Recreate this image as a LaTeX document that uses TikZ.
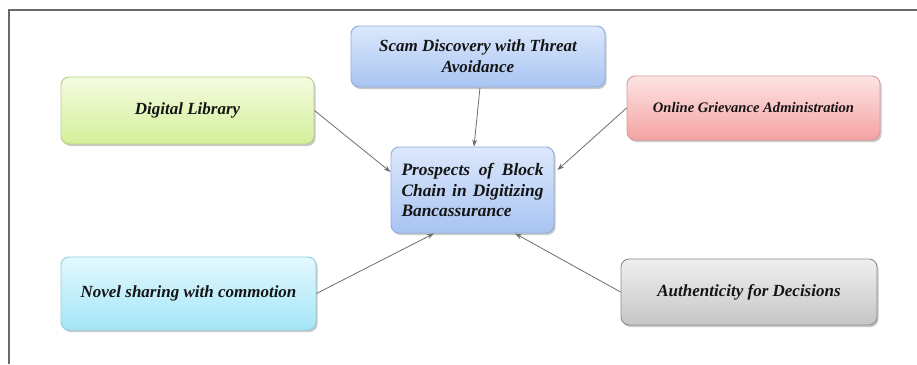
\documentclass[tikz,border=0pt]{standalone}
\usepackage{fontspec}
\setmainfont{Liberation Serif}
\usetikzlibrary{arrows.meta,shadows}

\definecolor{bluetop}{HTML}{DCE8FC}
\definecolor{bluebot}{HTML}{A8C4F2}
\definecolor{blueedge}{HTML}{8FAEDC}
\definecolor{greentop}{HTML}{F4FBE0}
\definecolor{greenbot}{HTML}{D4F09A}
\definecolor{greenedge}{HTML}{B5CF86}
\definecolor{redtop}{HTML}{FDE4E4}
\definecolor{redbot}{HTML}{F4A2A2}
\definecolor{rededge}{HTML}{D89A9A}
\definecolor{cyantop}{HTML}{E3F8FE}
\definecolor{cyanbot}{HTML}{A4E6F7}
\definecolor{cyanedge}{HTML}{8CCFE0}
\definecolor{graytop}{HTML}{EFEFEF}
\definecolor{graybot}{HTML}{C6C6C6}
\definecolor{grayedge}{HTML}{8C8C8C}
\definecolor{linkgray}{HTML}{6E6E6E}
\definecolor{framegray}{HTML}{6A6A6A}
\definecolor{inkdark}{HTML}{141414}

\tikzset{
  card/.style={rectangle, rounded corners=8pt, line width=0.9pt,
    drop shadow={shadow xshift=1.5pt, shadow yshift=-2pt, opacity=0.35, fill=black!60},
    font=\bfseries\itshape\fontsize{17}{21}\selectfont, text=inkdark, align=center,
    inner sep=0pt},
  bluecard/.style={card, draw=blueedge, top color=bluetop, bottom color=bluebot},
  greencard/.style={card, draw=greenedge, top color=greentop, bottom color=greenbot},
  redcard/.style={card, draw=rededge, top color=redtop, bottom color=redbot},
  cyancard/.style={card, draw=cyanedge, top color=cyantop, bottom color=cyanbot},
  graycard/.style={card, draw=grayedge, top color=graytop, bottom color=graybot},
  link/.style={draw=linkgray, line width=0.8pt, -{Stealth[length=7pt,width=5pt]}},
}

\begin{document}
\begin{tikzpicture}[x=1pt,y=-1pt]
  \useasboundingbox[fill=white] (0,0) rectangle (917,364);

  % frame edges
  \draw[framegray, line width=1.8pt] (9,364) -- (9,10) -- (917,10);

  % outer topics
  \node[bluecard, minimum width=254pt, minimum height=61pt] (scam) at (478,56.5)
    {Scam Discovery with Threat\\Avoidance};
  \node[greencard, minimum width=253pt, minimum height=67pt] (library) at (187.5,110.5)
    {Digital Library};
  \node[redcard, minimum width=253pt, minimum height=64pt,
        font=\bfseries\itshape\fontsize{14.6}{18}\selectfont] (grievance) at (753.5,108)
    {Online Grievance Administration};
  \node[cyancard, minimum width=255pt, minimum height=73pt] (sharing) at (188.5,293.5)
    {Novel sharing with commotion};
  \node[graycard, minimum width=256pt, minimum height=66pt] (authentic) at (749,292)
    {Authenticity for Decisions};

  % central topic
  \node[bluecard, minimum width=163pt, minimum height=86pt, align=left,
        font=\bfseries\itshape\fontsize{17.4}{20.5}\selectfont] (prospects) at (472.5,190)
    {\makebox[142pt][s]{Prospects of Block}\\
     \makebox[142pt][s]{Chain in Digitizing}\\
     \makebox[142pt][l]{Bancassurance}};

  % connectors
  \draw[link] ([xshift=2pt]scam.south) -- ([xshift=1.5pt]prospects.north);
  \draw[link] (library.east) -- ([yshift=18pt]prospects.west);
  \draw[link] (grievance.west) -- ([yshift=20pt,xshift=3pt]prospects.east);
  \draw[link] (sharing.east) -- ([xshift=-38.5pt]prospects.south);
  \draw[link] (authentic.west) -- ([xshift=42.5pt]prospects.south);
\end{tikzpicture}
\end{document}
